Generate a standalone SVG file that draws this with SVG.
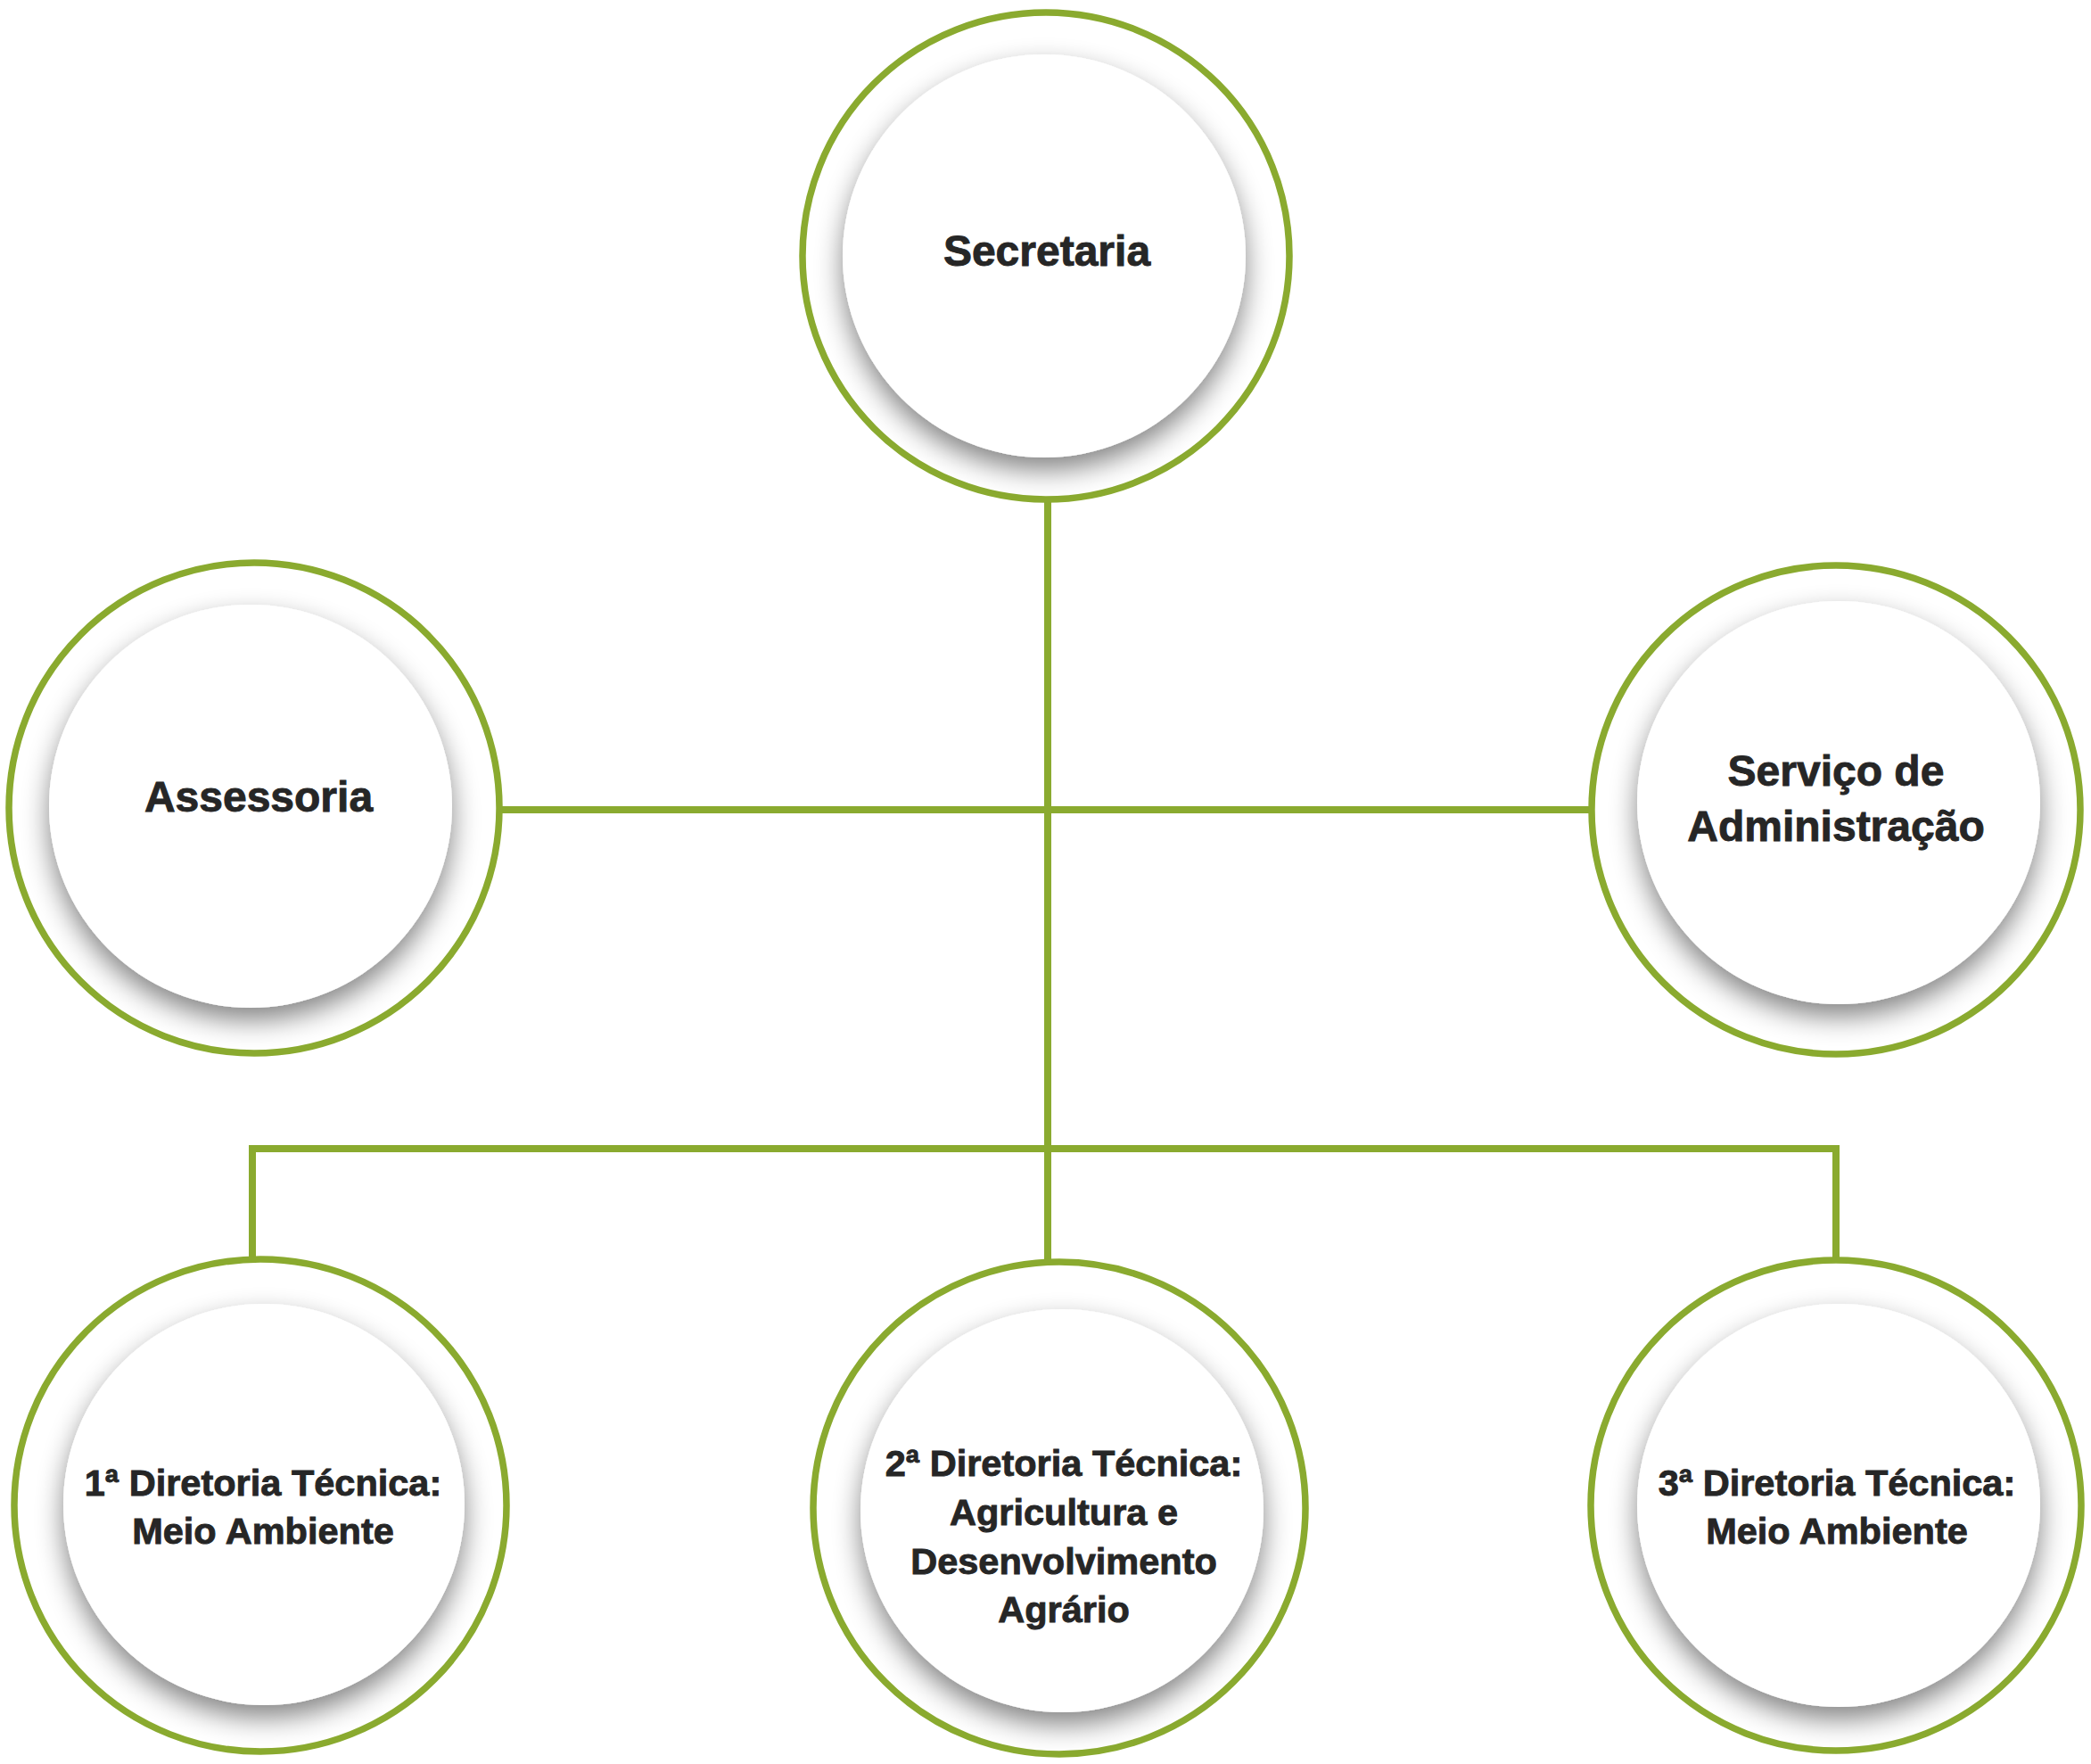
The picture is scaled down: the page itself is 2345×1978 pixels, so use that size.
<svg xmlns="http://www.w3.org/2000/svg" width="2345" height="1978" viewBox="0 0 2345 1978">
<style>
.conn{stroke:#8aaa2f;stroke-width:8;fill:none}
.outer{fill:#ffffff;stroke:#8aaa2f;stroke-width:7.5}
.inner{fill:#ffffff;filter:url(#sh)}
.t{font-family:"Liberation Sans",Arial,sans-serif;font-weight:bold;fill:#262626;stroke:#262626;stroke-width:0.9;text-anchor:middle}
.big{font-size:48px}
.small{font-size:41.5px}
</style>
<defs>
<filter id="sh" x="-30%" y="-30%" width="160%" height="160%">
<feDropShadow dx="0" dy="14" stdDeviation="15" flood-color="#000000" flood-opacity="0.48"/>
</filter>
</defs>
<rect width="2345" height="1978" fill="#ffffff"/>
<g id="connectors">
<path class="conn" d="M1175 560 V1414"/>
<path class="conn" d="M559 908 H1784"/>
<path class="conn" d="M283 1411 V1288 H2059 V1411"/>
</g>
<g id="secretaria">
<circle class="outer" cx="1173" cy="287" r="273"/>
<circle class="inner" cx="1171" cy="287" r="226"/>
<text class="t big" x="1174" y="298">Secretaria</text>
</g>
<g id="assessoria">
<circle class="outer" cx="285" cy="906" r="275"/>
<circle class="inner" cx="281" cy="904" r="226"/>
<text class="t big" x="290" y="910">Assessoria</text>
</g>
<g id="servico">
<circle class="outer" cx="2059" cy="908" r="274"/>
<circle class="inner" cx="2062" cy="900" r="226"/>
<text class="t big" x="2059" y="881">Serviço de</text>
<text class="t big" x="2059" y="943">Administração</text>
</g>
<g id="diretoria1">
<circle class="outer" cx="292" cy="1688" r="276"/>
<circle class="inner" cx="296" cy="1687" r="225"/>
<text class="t small" x="295" y="1677">1ª Diretoria Técnica:</text>
<text class="t small" x="295" y="1731">Meio Ambiente</text>
</g>
<g id="diretoria2">
<circle class="outer" cx="1188" cy="1691" r="276"/>
<circle class="inner" cx="1191" cy="1694" r="226"/>
<text class="t small" x="1193" y="1655">2ª Diretoria Técnica:</text>
<text class="t small" x="1193" y="1710">Agricultura e</text>
<text class="t small" x="1193" y="1765">Desenvolvimento</text>
<text class="t small" x="1193" y="1819">Agrário</text>
</g>
<g id="diretoria3">
<circle class="outer" cx="2059" cy="1688" r="275"/>
<circle class="inner" cx="2062" cy="1688" r="226"/>
<text class="t small" x="2060" y="1677">3ª Diretoria Técnica:</text>
<text class="t small" x="2060" y="1731">Meio Ambiente</text>
</g>
</svg>
